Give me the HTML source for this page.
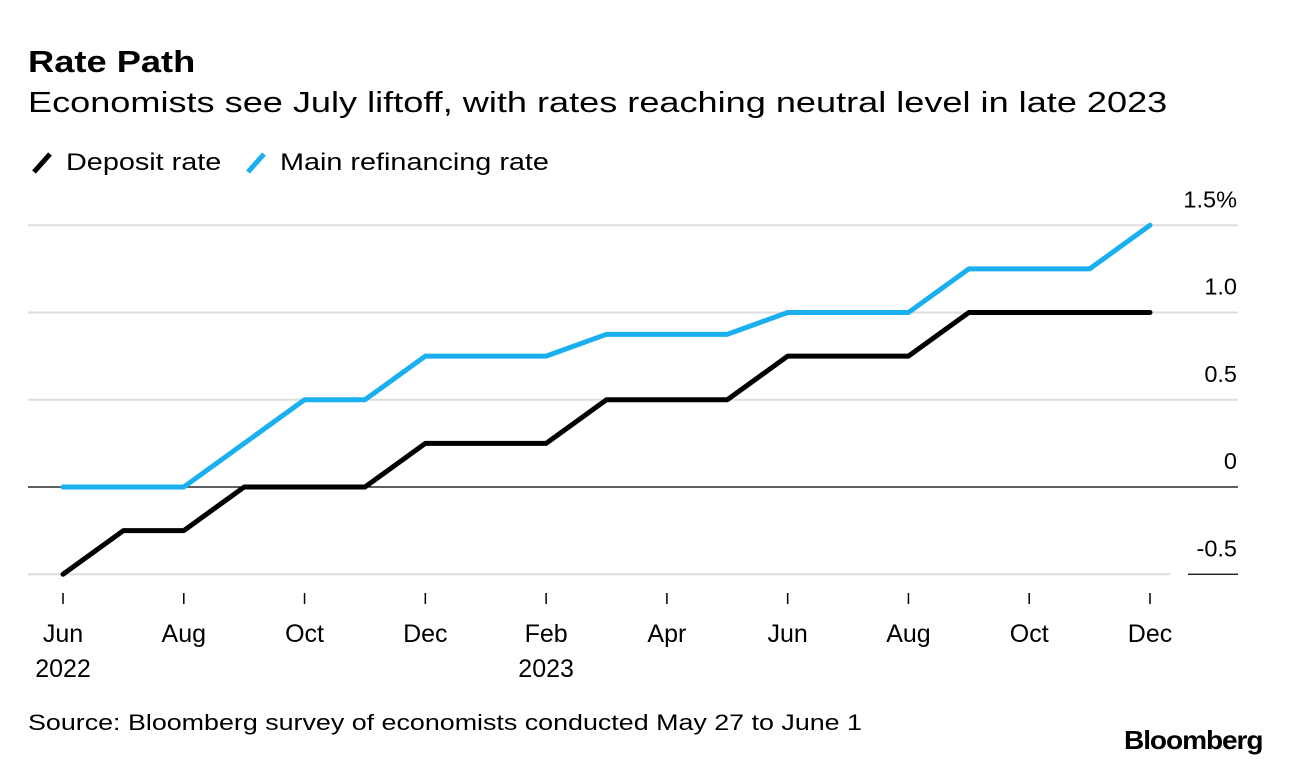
<!DOCTYPE html>
<html><head><meta charset="utf-8"><style>
body{margin:0;width:1292px;height:764px;background:#fff;font-family:"Liberation Sans",sans-serif;overflow:hidden;position:relative}
.t{position:absolute;white-space:nowrap;color:#000;transform-origin:0 0}
</style></head><body>
<div class="t" style="left:28px;top:44px;font-size:31px;font-weight:bold;transform:scaleX(1.17)">Rate Path</div>
<div class="t" style="left:28px;top:87px;font-size:29px;transform:scaleX(1.245)">Economists see July liftoff, with rates reaching neutral level in late 2023</div>
<div>
<svg class="t" style="left:30px;top:150px" width="26" height="26"><line x1="4" y1="22" x2="20" y2="4" stroke="#000" stroke-width="5"/></svg>
<div class="t" style="left:66px;top:149px;font-size:24px;transform:scaleX(1.2)">Deposit rate</div>
<svg class="t" style="left:244px;top:150px" width="26" height="26"><line x1="4" y1="22" x2="20" y2="4" stroke="#1ab0f0" stroke-width="5"/></svg>
<div class="t" style="left:280px;top:149px;font-size:24px;transform:scaleX(1.2)">Main refinancing rate</div>
</div>
<svg id="c" width="1292" height="764" style="position:absolute;left:0;top:0"></svg>
<div class="t" style="left:28px;top:710px;font-size:22px;transform:scaleX(1.22)">Source: Bloomberg survey of economists conducted May 27 to June 1</div>
<div class="t" style="left:1124px;top:725px;font-size:26px;font-weight:bold;letter-spacing:-1px;transform:scaleX(1.08)">Bloomberg</div>
<script>
const months=["Jun","Jul","Aug","Sep","Oct","Nov","Dec","Jan","Feb","Mar","Apr","May","Jun","Jul","Aug","Sep","Oct","Nov","Dec"];
const deposit=[-0.5,-0.25,-0.25,0,0,0,0.25,0.25,0.25,0.5,0.5,0.5,0.75,0.75,0.75,1,1,1,1];
const refi=[0,0,0,0.25,0.5,0.5,0.75,0.75,0.75,0.875,0.875,0.875,1,1,1,1.25,1.25,1.25,1.5];
const yTicks=[1.5,1,0.5,0,-0.5];
const yTickLabels=["1.5%","1.0","0.5","0","-0.5"];
const xTickIdx=[0,2,4,6,8,10,12,14,16,18];
const xTickLabels=["Jun","Aug","Oct","Dec","Feb","Apr","Jun","Aug","Oct","Dec"];
const xYearLabels={0:"2022",8:"2023"};
const ns="http://www.w3.org/2000/svg",svg=document.getElementById('c');
const x=i=>63+i*(1150-63)/18;
const y=v=>487-v*174.5;
function el(t,a){const e=document.createElementNS(ns,t);for(const k in a)e.setAttribute(k,a[k]);svg.appendChild(e);return e;}
yTicks.forEach((v,i)=>{
 const l=el('line',{x1:28,x2:v===0?1238:(v===-0.5?1170:1238),y1:y(v),y2:y(v),stroke:v===0?'#000':'#ddd','stroke-width':v===0?1.2:2});
 
 
 if(v===-0.5){const u=el('line',{x1:1188,x2:1238,y1:y(v),y2:y(v),stroke:'#000','stroke-width':1.2});
 
 }
 const t=el('text',{x:1237,y:y(v)-18,'text-anchor':'end','font-size':23.5,'font-family':'Liberation Sans',textLength:null});
 t.textContent=yTickLabels[i];
 
 
});
xTickIdx.forEach((idx,i)=>{
 const tk=el('line',{x1:x(idx),x2:x(idx),y1:593,y2:604,stroke:'#000','stroke-width':1.5});
 
 
 const t=el('text',{x:x(idx),y:642,'text-anchor':'middle','font-size':25,'font-family':'Liberation Sans'});
 t.textContent=xTickLabels[i];
 
 
 if(xYearLabels[idx]){const yt=el('text',{x:x(idx),y:677,'text-anchor':'middle','font-size':25,'font-family':'Liberation Sans'});
 yt.textContent=xYearLabels[idx];
 
 }
});
function line(d,c,n){const p=el('polyline',{points:d.map((v,i)=>x(i)+','+y(v)).join(' '),fill:'none',stroke:c,'stroke-width':5,'stroke-linejoin':'round','stroke-linecap':'round'});
 
 }
line(refi,'#1ab0f0','refi-rate-line');
line(deposit,'#000','deposit-rate-line');
</script>
</body></html>
